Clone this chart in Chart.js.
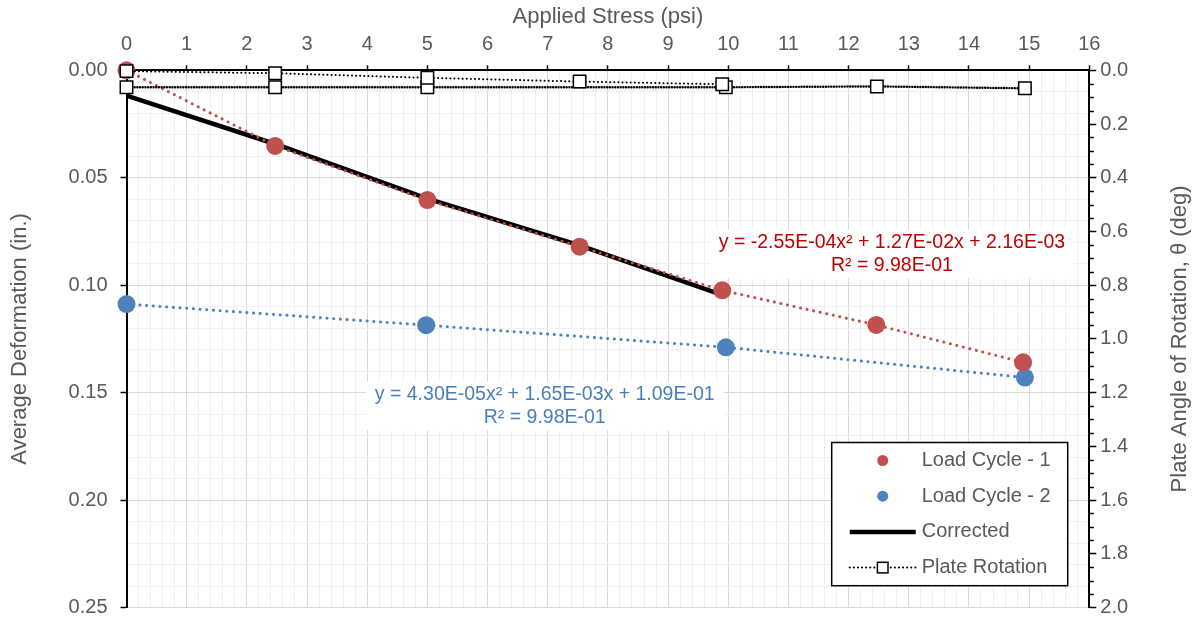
<!DOCTYPE html>
<html>
<head>
<meta charset="utf-8">
<script src="https://cdn.jsdelivr.net/npm/chart.js@4.4.1/dist/chart.umd.min.js"></script>
<style>
  html, body { margin: 0; padding: 0; background: #fff; }
  canvas { display: block; }
</style>
</head>
<body>
<canvas id="chart" width="1197" height="622"></canvas>
<script>
// Load cycle 1: applied stress (psi) vs. average deformation (in.)
const stressCycle1 = [0, 2.47, 5.0, 7.53, 9.9, 12.46, 14.9];
const deformCycle1 = [0.000, 0.0352, 0.0604, 0.0821, 0.1024, 0.1185, 0.1359];

// Load cycle 2
const stressCycle2 = [0, 4.98, 9.96, 14.93];
const deformCycle2 = [0.1088, 0.1186, 0.1289, 0.1430];

// Corrected deformation
const stressCorrected = [0, 2.47, 5.0, 7.53, 9.8];
const deformCorrected = [0.0118, 0.0343, 0.0597, 0.0815, 0.1036];

// Plate rotation (deg), two runs
const stressPlateA = [0, 2.47, 5.0, 7.53, 9.9];
const rotationPlateA = [0.003, 0.011, 0.028, 0.042, 0.052];
const stressPlateB = [0, 2.47, 5.0, 9.96, 12.47, 14.93];
const rotationPlateB = [0.063, 0.063, 0.063, 0.063, 0.060, 0.067];

// Axis tick labels
const stressTicks = [0, 1, 2, 3, 4, 5, 6, 7, 8, 9, 10, 11, 12, 13, 14, 15, 16];
const deformTicks = ['0.00', '0.05', '0.10', '0.15', '0.20', '0.25'];
const rotationTicks = ['0.0', '0.2', '0.4', '0.6', '0.8', '1.0', '1.2', '1.4', '1.6', '1.8', '2.0'];

// Trendline equations
const trendCycle1 = ['y = -2.55E-04x\u00B2 + 1.27E-02x + 2.16E-03', 'R\u00B2 = 9.98E-01'];
const trendCycle2 = ['y = 4.30E-05x\u00B2 + 1.65E-03x + 1.09E-01', 'R\u00B2 = 9.98E-01'];

const FONT = '"Liberation Sans", Arial, sans-serif';
const TEXT = '#595959';
const RED = '#C0504D';
const BLUE = '#4F81BD';
const TITLE_SIZE = 22;
const TICK_SIZE = 20;

const pts = (xs, ys) => xs.map((x, i) => ({ x, y: ys[i] }));
const isMultiple = (v, step) => Math.abs(v / step - Math.round(v / step)) < 1e-6;

// Equation boxes, anchored in data units (x: psi, y: in.)
const trendLabels = [
  { lines: trendCycle1, color: '#C00000', at: { x: 12.72, y: 0.0855 } },
  { lines: trendCycle2, color: '#4A7EBB', at: { x: 6.95, y: 0.1562 } }
];

const trendLabelPlugin = {
  id: 'trendLabels',
  beforeDatasetsDraw(chart) {
    const { ctx, scales } = chart;
    ctx.save();
    ctx.font = '19.5px ' + FONT;
    ctx.textAlign = 'center';
    ctx.textBaseline = 'middle';
    trendLabels.forEach(lbl => {
      const cx = scales.x.getPixelForValue(lbl.at.x);
      const cy = scales.y.getPixelForValue(lbl.at.y);
      const lh = 23.5;
      const w = Math.max(...lbl.lines.map(t => ctx.measureText(t).width)) + 18;
      const h = lh * lbl.lines.length + 2;
      ctx.fillStyle = '#fff';
      ctx.fillRect(cx - w / 2, cy - h / 2, w, h);
      ctx.fillStyle = lbl.color;
      lbl.lines.forEach((t, i) => {
        ctx.fillText(t, cx, cy + (i - (lbl.lines.length - 1) / 2) * lh);
      });
    });
    ctx.restore();
  }
};

// Minor tick marks on the rotation axis and its rotated title
const rotationAxisPlugin = {
  id: 'rotationAxis',
  afterDraw(chart) {
    const { ctx, chartArea } = chart;
    const s = chart.scales.y2;
    ctx.save();
    ctx.strokeStyle = '#000';
    ctx.lineWidth = 1.5;
    for (let i = 0; i <= 40; i++) {
      if (i % 4 === 0) continue;
      const y = Math.round(s.getPixelForValue(i / 20)) + 0.5;
      ctx.beginPath();
      ctx.moveTo(chartArea.right, y);
      ctx.lineTo(chartArea.right + 4.5, y);
      ctx.stroke();
    }
    ctx.translate(s.right - 17, (chartArea.top + chartArea.bottom) / 2);
    ctx.rotate(-Math.PI / 2);
    ctx.font = TITLE_SIZE + 'px ' + FONT;
    ctx.fillStyle = TEXT;
    ctx.textAlign = 'center';
    ctx.textBaseline = 'middle';
    ctx.fillText('Plate Angle of Rotation, \u03B8 (deg)', 0, 0);
    ctx.restore();
  }
};

// Boxed legend inside the plot area
const legendEntries = [
  { dataset: 2, line: false, markerRadius: 5.5 },
  { dataset: 3, line: false, markerRadius: 5.5 },
  { dataset: 4, line: true, markerRadius: 0 },
  { dataset: 0, line: true, markerRadius: 5.3 }
];

const boxLegendPlugin = {
  id: 'boxLegend',
  afterDraw(chart) {
    const { ctx, chartArea } = chart;
    const w = 236, h = 143.2, rowGap = 35.7;
    const left = chartArea.right - 21.6 - w;
    const top = chartArea.bottom - 21.8 - h;
    ctx.save();
    ctx.fillStyle = '#fff';
    ctx.fillRect(left, top, w, h);
    ctx.strokeStyle = '#000';
    ctx.lineWidth = 1.5;
    ctx.strokeRect(left, top, w, h);
    legendEntries.forEach((e, i) => {
      const ds = chart.data.datasets[e.dataset];
      const y = top + 18 + i * rowGap;
      const mx = left + 51;
      if (e.line) {
        ctx.save();
        ctx.strokeStyle = ds.borderColor;
        ctx.lineWidth = ds.borderWidth;
        ctx.lineCap = ds.borderCapStyle || 'butt';
        ctx.setLineDash(ds.borderDash || []);
        ctx.beginPath();
        ctx.moveTo(left + 18, y);
        ctx.lineTo(left + 84, y);
        ctx.stroke();
        ctx.restore();
      }
      if (e.markerRadius > 0) {
        if (ds.pointStyle === 'rect') {
          const r = e.markerRadius;
          ctx.fillStyle = ds.pointBackgroundColor;
          ctx.fillRect(mx - r, y - r, 2 * r, 2 * r);
          ctx.strokeStyle = ds.pointBorderColor;
          ctx.lineWidth = ds.pointBorderWidth;
          ctx.strokeRect(mx - r, y - r, 2 * r, 2 * r);
        } else {
          ctx.fillStyle = ds.pointBackgroundColor;
          ctx.beginPath();
          ctx.arc(mx, y, e.markerRadius, 0, Math.PI * 2);
          ctx.fill();
        }
      }
      ctx.fillStyle = TEXT;
      ctx.font = TICK_SIZE + 'px ' + FONT;
      ctx.textAlign = 'left';
      ctx.textBaseline = 'middle';
      ctx.fillText(ds.label, left + 90, y);
    });
    ctx.restore();
  }
};

const squareMarker = {
  pointStyle: 'rect',
  pointRadius: 8.8,
  pointHoverRadius: 8.8,
  pointBackgroundColor: '#fff',
  pointBorderColor: '#000',
  pointBorderWidth: 1.5
};

// Vertical axes: fixed width, no label overhang above/below the plot
const fitVertical = width => s => {
  s.width = width;
  s.paddingTop = 0;
  s.paddingBottom = 0;
};

new Chart(document.getElementById('chart'), {
  type: 'scatter',
  data: {
    datasets: [
      Object.assign({
        label: 'Plate Rotation',
        data: pts(stressPlateA, rotationPlateA),
        yAxisID: 'y2',
        showLine: true,
        borderColor: '#000',
        borderWidth: 2,
        borderDash: [0.1, 4],
        borderCapStyle: 'round',
        clip: false
      }, squareMarker),
      Object.assign({
        label: 'Plate Rotation (2)',
        data: pts(stressPlateB, rotationPlateB),
        yAxisID: 'y2',
        showLine: true,
        borderColor: '#000',
        borderWidth: 2.4,
        borderDash: [0.1, 2.6],
        borderCapStyle: 'round',
        clip: false
      }, squareMarker),
      {
        label: 'Load Cycle - 1',
        data: pts(stressCycle1, deformCycle1),
        yAxisID: 'y',
        showLine: true,
        borderColor: RED,
        borderWidth: 3,
        borderDash: [0.1, 6.6],
        borderCapStyle: 'round',
        pointRadius: 9,
        pointHoverRadius: 9,
        pointBackgroundColor: RED,
        pointBorderWidth: 0,
        clip: false
      },
      {
        label: 'Load Cycle - 2',
        data: pts(stressCycle2, deformCycle2),
        yAxisID: 'y',
        showLine: true,
        borderColor: BLUE,
        borderWidth: 3,
        borderDash: [0.1, 6.6],
        borderCapStyle: 'round',
        pointRadius: 9,
        pointHoverRadius: 9,
        pointBackgroundColor: BLUE,
        pointBorderWidth: 0,
        clip: false
      },
      {
        label: 'Corrected',
        data: pts(stressCorrected, deformCorrected),
        yAxisID: 'y',
        showLine: true,
        borderColor: '#000',
        borderWidth: 4.5,
        pointRadius: 0,
        pointHoverRadius: 0,
        clip: false
      }
    ]
  },
  options: {
    responsive: false,
    animation: false,
    devicePixelRatio: 1,
    layout: { padding: { left: 0, right: 0, top: 0, bottom: 14.5 } },
    plugins: { legend: { display: false }, tooltip: { enabled: false } },
    scales: {
      x: {
        type: 'linear',
        position: 'top',
        min: stressTicks[0],
        max: stressTicks[stressTicks.length - 1],
        afterFit: s => { s.height = 70.3; },
        border: { color: '#000', width: 2 },
        grid: {
          color: c => isMultiple(c.tick.value, 1) ? '#d9d9d9' : '#f0f0f0',
          lineWidth: 1,
          tickLength: 5,
          tickWidth: 1.5,
          tickColor: c => isMultiple(c.tick.value, 1) ? '#000' : 'rgba(0,0,0,0)'
        },
        ticks: {
          stepSize: 0.2,
          autoSkip: false,
          minRotation: 0,
          maxRotation: 0,
          padding: 9,
          color: TEXT,
          font: { family: FONT, size: TICK_SIZE },
          callback: v => {
            const t = stressTicks.find(s => Math.abs(s - v) < 1e-6);
            return t === undefined ? '' : String(t);
          }
        },
        title: {
          display: true,
          text: 'Applied Stress (psi)',
          color: TEXT,
          font: { family: FONT, size: TITLE_SIZE },
          padding: { top: 4, bottom: 0 }
        }
      },
      y: {
        type: 'linear',
        position: 'left',
        min: 0,
        max: 0.25,
        reverse: true,
        afterFit: fitVertical(126.5),
        border: { color: '#000', width: 2 },
        grid: {
          color: c => isMultiple(c.tick.value, 0.05) ? '#d9d9d9' : '#f0f0f0',
          lineWidth: 1,
          tickLength: 6,
          tickWidth: 1.5,
          tickColor: c => isMultiple(c.tick.value, 0.05) ? '#000' : 'rgba(0,0,0,0)'
        },
        ticks: {
          stepSize: 0.01,
          autoSkip: false,
          padding: 13,
          color: TEXT,
          font: { family: FONT, size: TICK_SIZE },
          callback: v => isMultiple(v, 0.05) ? deformTicks[Math.round(v / 0.05)] : ''
        },
        title: {
          display: true,
          text: 'Average Deformation (in.)',
          color: TEXT,
          font: { family: FONT, size: TITLE_SIZE },
          padding: { top: 7, bottom: 0 }
        }
      },
      y2: {
        type: 'linear',
        position: 'right',
        min: 0,
        max: 2,
        reverse: true,
        afterFit: fitVertical(1197 - 1089.3),
        border: { color: '#000', width: 2 },
        grid: {
          drawOnChartArea: false,
          tickLength: 7,
          tickWidth: 1.5,
          tickColor: '#000'
        },
        ticks: {
          stepSize: 0.2,
          autoSkip: false,
          padding: 4,
          color: TEXT,
          font: { family: FONT, size: TICK_SIZE },
          callback: v => rotationTicks[Math.round(v / 0.2)]
        }
      }
    }
  },
  plugins: [trendLabelPlugin, rotationAxisPlugin, boxLegendPlugin]
});
</script>
</body>
</html>
